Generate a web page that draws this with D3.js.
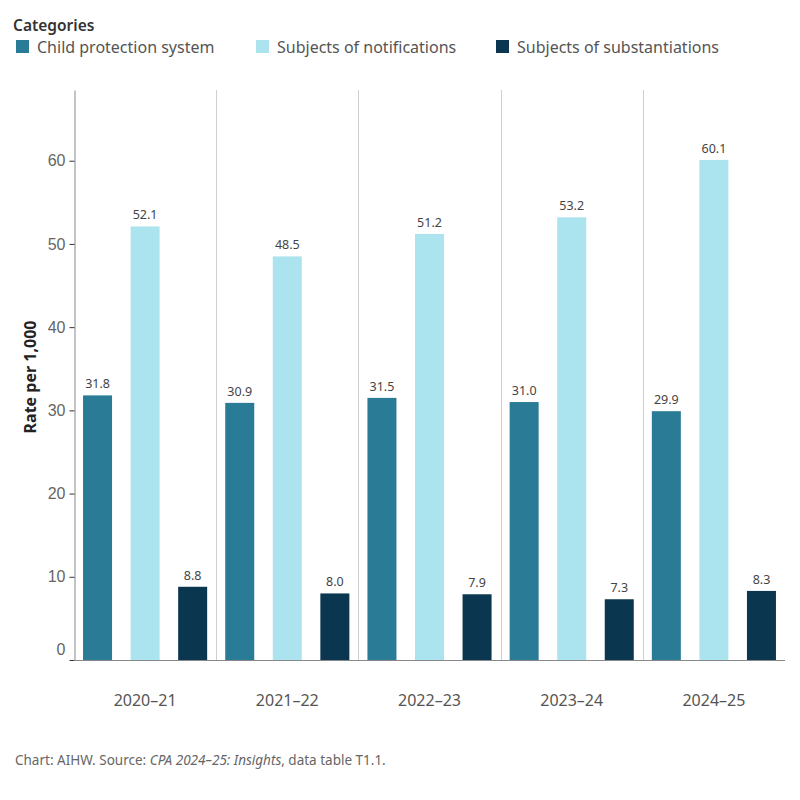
<!DOCTYPE html>
<html><head><meta charset="utf-8">
<script src="https://cdn.jsdelivr.net/npm/d3@7"></script>
<style>body{margin:0;background:#fff;} svg{display:block;font-family:"Noto Sans","Open Sans",sans-serif;}</style>
</head><body><svg id="c" width="800" height="800"></svg>
<script>
const years = ["2020\u201321","2021\u201322","2022\u201323","2023\u201324","2024\u201325"];
const categories = ["Child protection system","Subjects of notifications","Subjects of substantiations"];
const childProtection = [31.8,30.9,31.5,31.0,29.9];
const notifications = [52.1,48.5,51.2,53.2,60.1];
const substantiations = [8.8,8.0,7.9,7.3,8.3];
const yTicks = [0,10,20,30,40,50,60];
const colors = ["#2a7c96","#abe3ee","#0b3650"];
const series = [childProtection, notifications, substantiations];

(function(){
const svg = d3.select("#c");
const mL = 74, mR = 785, mT = 90, mB = 660;
const y = d3.scaleLinear().domain([0,68.5]).range([mB, mT]);
const x0 = d3.scaleBand().domain(years).range([mL, mR]).padding(0);
const x1 = d3.scaleBand().domain(categories).range([0, x0.bandwidth()]).paddingInner(0.39).paddingOuter(0.19);

svg.append("g").selectAll("line").data(years.slice(1)).join("line")
  .attr("x1", d=>Math.round(x0(d))+0.5).attr("x2", d=>Math.round(x0(d))+0.5).attr("y1", mT).attr("y2", mB)
  .attr("stroke","#cfcfcf").attr("stroke-width",1);

const g = svg.append("g");
years.forEach((yr,i)=>{
  categories.forEach((c,j)=>{
    const v = series[j][i];
    g.append("rect").attr("x", x0(yr)+x1(c)).attr("width", x1.bandwidth())
      .attr("y", y(v)).attr("height", y(0)-y(v)).attr("fill", colors[j]);
    g.append("text").attr("x", x0(yr)+x1(c)+x1.bandwidth()/2).attr("y", y(v)-7)
      .attr("text-anchor","middle").attr("font-size",12.5).attr("fill","#444").text(v.toFixed(1));
  });
});

const ya = svg.append("g").attr("transform",`translate(${mL+0.5},0)`)
  .call(d3.axisLeft(y).tickValues(yTicks).tickSize(5).tickSizeOuter(0).tickPadding(4));
ya.select(".domain").attr("stroke","#888");
ya.selectAll(".tick line").attr("stroke","#333");
ya.selectAll(".tick text").attr("font-size",16).attr("fill","#666").attr("font-family","inherit");
ya.selectAll(".tick").filter(d=>d===0).select("text").attr("dy","-0.35em");

svg.append("line").attr("x1",mL).attr("x2",mR).attr("y1",mB+0.5).attr("y2",mB+0.5).attr("stroke","#888");
svg.append("g").selectAll("text").data(years).join("text")
  .attr("x", d=>x0(d)+x0.bandwidth()/2).attr("y", 706).attr("text-anchor","middle")
  .attr("font-size",16).attr("fill","#555").text(d=>d);

svg.append("text").attr("transform",`translate(36,${(mT+mB)/2+2}) rotate(-90)`)
  .attr("text-anchor","middle").attr("font-size",16).attr("font-weight","bold").attr("fill","#222").text("Rate per 1,000");

svg.append("text").attr("x",13).attr("y",31).attr("font-size",15.5).attr("font-weight",600).attr("fill","#333").text("Categories");
const lx = [16,256,496];
categories.forEach((c,j)=>{
  svg.append("rect").attr("x",lx[j]).attr("y",40).attr("width",13).attr("height",13).attr("fill",colors[j]);
  svg.append("text").attr("x",lx[j]+21).attr("y",53).attr("font-size",16).attr("fill","#555").text(c);
});

const f = svg.append("text").attr("x",15).attr("y",765).attr("font-size",13.5).attr("fill","#666");
f.append("tspan").text("Chart: AIHW. Source: ");
f.append("tspan").attr("font-style","italic").text("CPA 2024\u201325: Insights");
f.append("tspan").text(", data table T1.1.");
})();
</script></body></html>
